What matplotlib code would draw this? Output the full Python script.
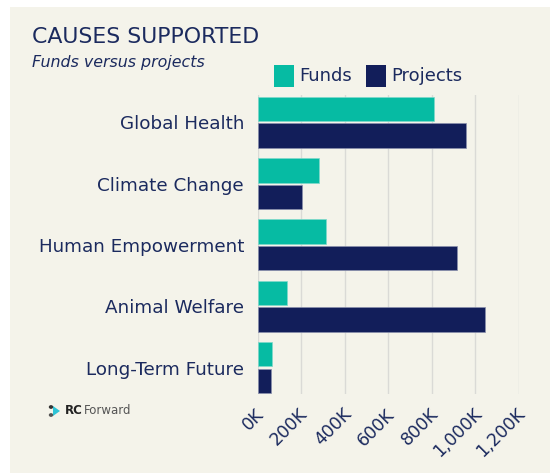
import matplotlib.pyplot as plt
from matplotlib.patches import Rectangle, Polygon, Circle
from matplotlib.transforms import ScaledTranslation
import numpy as np

# Données
causes = ["Global Health", "Climate Change", "Human Empowerment",
          "Animal Welfare", "Long-Term Future"]
funds = [811000, 284000, 316000, 137000, 67000]
projects = [957000, 206000, 919000, 1047000, 62000]
xticks = [0, 200000, 400000, 600000, 800000, 1000000, 1200000]
xtick_labels = ["0K", "200K", "400K", "600K", "800K", "1,000K", "1,200K"]

BG = "#F4F3EA"
TEAL = "#06BBA3"
NAVY = "#121E5A"
TXT = "#1B2A5E"

W, H = 550, 473
fig = plt.figure(figsize=(W / 100, H / 100), dpi=100)
fig.patch.set_facecolor("white")

# panneau crème
fig.patches.append(Rectangle((10 / W, 0), 1 - 10 / W, 1 - 7 / H,
                             transform=fig.transFigure, facecolor=BG,
                             edgecolor="none", zorder=-10))

# axes en pixels : gauche 257.5, droite 518, haut 95, bas 393.5
left, right, top, bottom = 257.5, 518.5, 95, 393.5
ax = fig.add_axes([left / W, 1 - bottom / H, (right - left) / W, (bottom - top) / H])
ax.set_facecolor(BG)

y = np.arange(len(causes))
h = 0.4
ax.barh(y - h / 2 - 0.017, funds, height=h, color=TEAL, edgecolor="#7fd9cb",
        linewidth=0.5, zorder=3)
ax.barh(y + h / 2 + 0.017, projects, height=h, color=NAVY, edgecolor="#8a90ad",
        linewidth=0.5, zorder=3)

ax.set_xlim(0, 1200000)
ax.set_ylim(4.424, -0.445)
ax.set_xticks(xticks)
ax.set_xticklabels([])
# étiquettes en x dessinées à la main : fin un peu à droite et sous le repère
off = ScaledTranslation(4 / 100, -18 / 100, fig.dpi_scale_trans)
for xv, lab in zip(xticks, xtick_labels):
    ax.text(xv, 0, lab, transform=ax.get_xaxis_transform() + off,
            rotation=45, ha="right", va="center", rotation_mode="anchor",
            color=TXT, fontsize=12.5, clip_on=False)
ax.set_yticks(y)
ax.set_yticklabels(causes, color=TXT, fontsize=13.2)
ax.tick_params(axis="both", length=0)
ax.tick_params(axis="y", pad=9.7)
ax.grid(True, axis="x", color="#DADAD6", linewidth=1, zorder=0)
for s in ax.spines.values():
    s.set_visible(False)

# titres
fig.text(32 / W, 1 - 37 / H, "CAUSES SUPPORTED", color=TXT, fontsize=15.8,
         va="center", ha="left")
fig.text(32 / W, 1 - 62 / H, "Funds versus projects", color=TXT, fontsize=11.4,
         style="italic", va="center", ha="left")

# légende
for x0, col, lab in [(274, TEAL, "Funds"), (366, NAVY, "Projects")]:
    fig.patches.append(Rectangle((x0 / W, 1 - 87 / H), 20 / W, 22 / H,
                                 transform=fig.transFigure, facecolor=col,
                                 edgecolor="none"))
    fig.text((x0 + 25) / W, 1 - 76 / H, lab, color=TXT, fontsize=13,
             va="center", ha="left")

# logo RC Forward
fig.patches.append(Polygon([(53 / W, 1 - 406 / H), (53 / W, 1 - 416 / H),
                            (60 / W, 1 - 411 / H)], closed=True,
                           transform=fig.transFigure, facecolor="#2EC4D6",
                           edgecolor="none"))
fig.patches.append(Circle((51 / W, 1 - 407 / H), 2.2 / W,
                          transform=fig.transFigure, facecolor="#333333"))
fig.patches.append(Circle((51 / W, 1 - 415 / H), 2.2 / W,
                          transform=fig.transFigure, facecolor="#555555"))
fig.text(65 / W, 1 - 411 / H, "RC", color="#222222", fontsize=8.5,
         fontweight="bold", va="center", ha="left")
fig.text(84 / W, 1 - 411 / H, "Forward", color="#555555", fontsize=8.5,
         va="center", ha="left")

fig.savefig("out.png", dpi=100, facecolor=fig.get_facecolor())
